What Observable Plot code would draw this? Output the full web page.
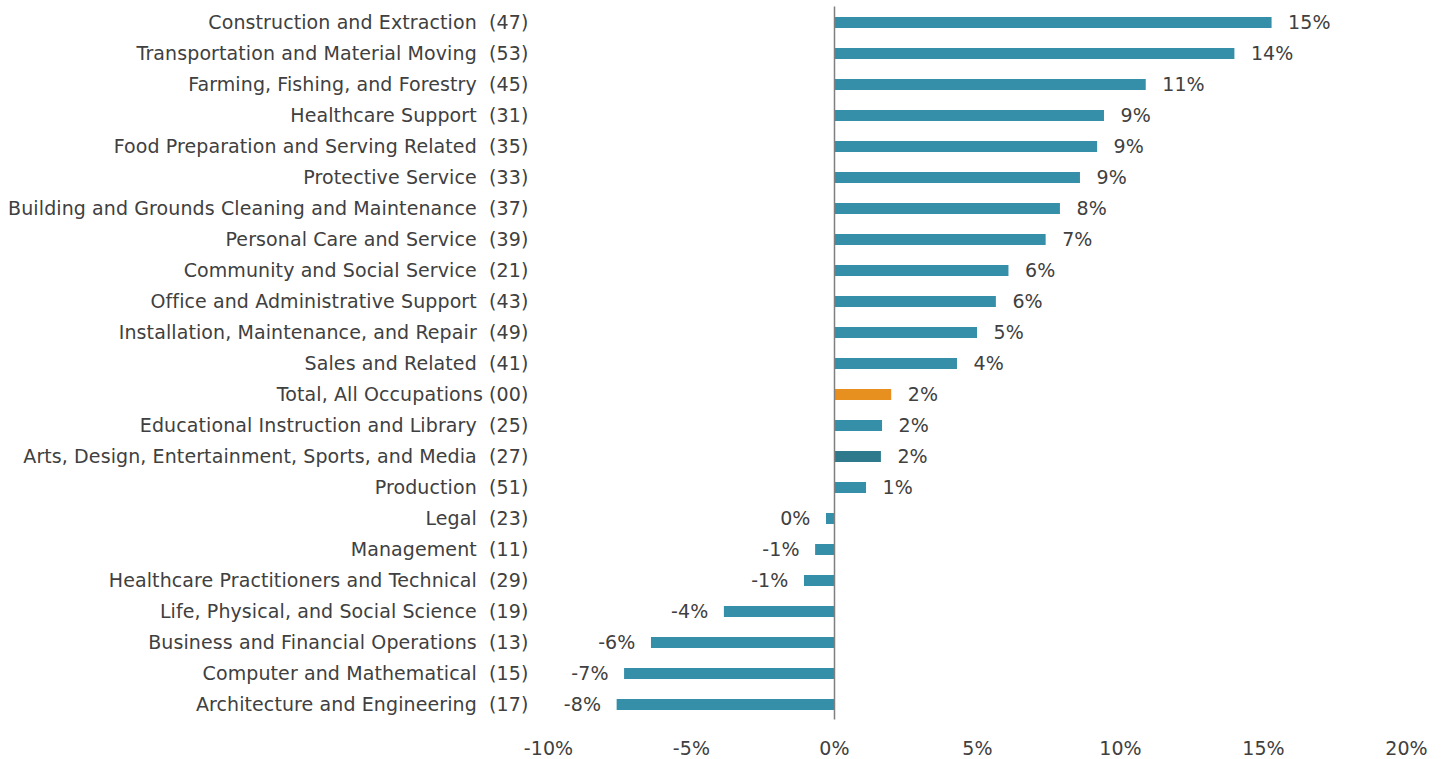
<!DOCTYPE html>
<html>
<head>
<meta charset="utf-8">
<script src="https://cdn.jsdelivr.net/npm/d3@7"></script>
<script src="https://cdn.jsdelivr.net/npm/@observablehq/plot@0.6"></script>
<style>
  html, body { margin: 0; padding: 0; background: #fff; }
  #chart svg { display: block; }
  #chart svg text { letter-spacing: 0.1px; }
</style>
</head>
<body>
<div id="chart"></div>
<script>
const names = [
  "Construction and Extraction",
  "Transportation and Material Moving",
  "Farming, Fishing, and Forestry",
  "Healthcare Support",
  "Food Preparation and Serving Related",
  "Protective Service",
  "Building and Grounds Cleaning and Maintenance",
  "Personal Care and Service",
  "Community and Social Service",
  "Office and Administrative Support",
  "Installation, Maintenance, and Repair",
  "Sales and Related",
  "Total, All Occupations",
  "Educational Instruction and Library",
  "Arts, Design, Entertainment, Sports, and Media",
  "Production",
  "Legal",
  "Management",
  "Healthcare Practitioners and Technical",
  "Life, Physical, and Social Science",
  "Business and Financial Operations",
  "Computer and Mathematical",
  "Architecture and Engineering"
];
const codes = ["47","53","45","31","35","33","37","39","21","43","49","41","00","25","27","51","23","11","29","19","13","15","17"];
const values = [15.3, 14.0, 10.9, 9.44, 9.2, 8.6, 7.9, 7.4, 6.1, 5.66, 5.0, 4.3, 2.0, 1.68, 1.64, 1.12, -0.28, -0.66, -1.05, -3.85, -6.4, -7.34, -7.6];
const groups = ["occ","occ","occ","occ","occ","occ","occ","occ","occ","occ","occ","occ","total","occ","arts","occ","occ","occ","occ","occ","occ","occ","occ"];
const xTicks = [-10, -5, 0, 5, 10, 15, 20];

const colorOf = {occ: "#368fa8", total: "#e8901f", arts: "#2e7a8c"};
const data = names.map((n, i) => ({name: n, code: codes[i], value: values[i], group: groups[i]}));
const codeOf = new Map(data.map(d => [d.name, d.code]));
const fmt = v => `${Math.round(v) || 0}%`;

const chart = Plot.plot({
  width: 1442,
  height: 759,
  marginLeft: 548,
  marginRight: 36,
  marginTop: 6.5,
  marginBottom: 39.5,
  style: {fontFamily: "DejaVu Sans", fontSize: "19px", color: "#404040", background: "#fff"},
  x: {domain: [-10, 20], ticks: xTicks, tickFormat: d => `${d}%`, tickSize: 0, tickPadding: 21, label: null},
  y: {domain: names, padding: 0, label: null, tickSize: 0, tickPadding: 20,
      tickFormat: n => n === "Total, All Occupations" ? `${n} (${codeOf.get(n)})` : `${n}\u00a0\u00a0(${codeOf.get(n)})`},
  marks: [
    Plot.barX(data, {x: "value", y: "name", fill: d => colorOf[d.group], insetTop: 10, insetBottom: 10}),
    Plot.ruleX([0], {stroke: "#7f7f7f", strokeWidth: 1.5}),
    Plot.text(data.filter(d => d.value >= 0), {x: "value", y: "name", text: d => fmt(d.value), textAnchor: "start", dx: 16, fill: "#404040"}),
    Plot.text(data.filter(d => d.value < 0), {x: "value", y: "name", text: d => fmt(d.value), textAnchor: "end", dx: -16, fill: "#404040"})
  ]
});
document.getElementById("chart").appendChild(chart);
</script>
</body>
</html>
